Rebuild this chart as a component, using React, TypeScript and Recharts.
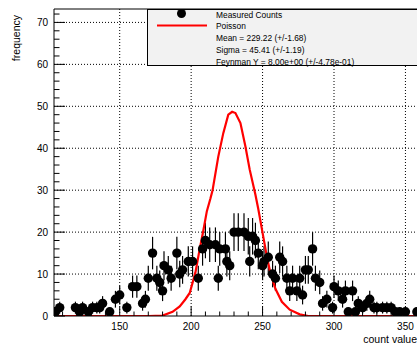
import React from 'react';
import { ComposedChart, Scatter, Line, XAxis, YAxis, ErrorBar, ReferenceLine } from 'recharts';

const countX = [105, 108, 119, 122, 124, 128, 131, 134, 136, 138, 143, 147, 150, 155, 159, 162, 166, 168, 170, 173, 176, 178, 180, 181, 184, 186, 190, 192, 194, 198, 201, 205, 208, 210, 213, 217, 219, 220, 224, 225, 227, 230, 233, 237, 240, 241, 243, 245, 247, 250, 251, 254, 257, 259, 262, 264, 267, 269, 271, 274, 276, 278, 280, 282, 285, 287, 290, 292, 295, 299, 300, 303, 306, 308, 310, 313, 315, 317, 320, 323, 325, 328, 330, 334, 337, 340, 343, 346, 350, 358];
const countY = [1, 2, 2, 1, 2, 1, 2, 2, 2, 3, 1, 4, 5, 2, 7, 7, 3, 4, 9, 15, 9, 8, 6, 12, 11, 9, 15, 10, 11, 13, 13, 9, 16, 18, 17, 17, 9, 16, 16, 13, 12, 20, 20, 20, 19, 13, 19, 18, 15, 12, 13, 14, 10, 9, 14, 13, 9, 6, 9, 6, 9, 5, 11, 11, 16, 9, 8, 3, 4, 2, 7, 6, 4, 6, 1, 6, 1, 3, 2, 3, 4, 2, 2, 2, 2, 2, 1, 1, 1, 1];

const poissonX = [104, 170, 180, 187, 192, 196, 199, 203, 206, 208.6, 211, 213.5, 215, 219, 222.5, 226, 228.7, 231, 234.5, 238, 241, 245, 247, 250.7, 253, 255.4, 259, 263.5, 269, 276, 282, 370];
const poissonY = [0, 0, 0.1, 1, 2.3, 4, 5.5, 10.4, 16, 20.5, 25, 28, 30, 38, 43.6, 48, 48.7, 48.4, 46, 40.4, 34.9, 28.9, 25.5, 18.5, 14.2, 10.4, 6.5, 3.4, 1.5, 0.4, 0, 0];

const xMajor = [150, 200, 250, 300, 350];
const xTicks = [110, 120, 130, 140, 150, 160, 170, 180, 190, 200, 210, 220, 230, 240, 250, 260, 270, 280, 290, 300, 310, 320, 330, 340, 350, 360, 370];
const yMajor = [0, 10, 20, 30, 40, 50, 60, 70];
const yTicks = [0, 2, 4, 6, 8, 10, 12, 14, 16, 18, 20, 22, 24, 26, 28, 30, 32, 34, 36, 38, 40, 42, 44, 46, 48, 50, 52, 54, 56, 58, 60, 62, 64, 66, 68, 70, 72];

const legendLabels = ['Measured Counts', 'Poisson', 'Mean = 229.22 (+/-1.68)', 'Sigma = 45.41 (+/-1.19)', 'Feynman Y = 8.00e+00 (+/-4.78e-01)'];

const X_MIN = 104;
const X_MAX = 370;
const Y_MAX = 73.2;

const FONT = '"Liberation Sans", Arial, Helvetica, sans-serif';

const measured = countX.map((x, i) => ({ x, y: countY[i], err: Math.sqrt(countY[i]) }));
const poisson = poissonX.map((x, i) => ({ x, y: poissonY[i] }));

const XTick = (props: any) => {
  const { x, y, payload } = props;
  const v = payload.value;
  const major = xMajor.includes(v);
  return (
    <g>
      <line x1={x} x2={x} y1={y} y2={y - (major ? 9.5 : 4.5)} stroke="#000" strokeWidth={1} />
      {major && (
        <text x={x} y={y + 14} textAnchor="middle" fontSize={10} fill="#000" fontFamily={FONT}>
          {v}
        </text>
      )}
    </g>
  );
};

const YTick = (props: any) => {
  const { x, y, payload } = props;
  const v = payload.value;
  const major = yMajor.includes(v);
  return (
    <g>
      <line x1={x} x2={x + (major ? 11 : 5.5)} y1={y} y2={y} stroke="#000" strokeWidth={1} />
      {major && (
        <text x={x - 6} y={y + 3.5} textAnchor="end" fontSize={10} fill="#000" fontFamily={FONT}>
          {v}
        </text>
      )}
    </g>
  );
};

const Dot = (p: any) => <circle cx={p.cx} cy={p.cy} r={4.7} fill="#000" />;

export default function App() {
  return (
    <div style={{ position: 'fixed', left: 0, top: 0, width: 417, height: 344, overflow: 'hidden', background: '#fff' }}>
      <ComposedChart width={440} height={344} margin={{ top: 9, right: 6, bottom: 0, left: 0 }}>
        <XAxis
          dataKey="x"
          type="number"
          domain={[X_MIN, X_MAX]}
          allowDataOverflow
          ticks={xTicks}
          interval={0}
          tick={<XTick />}
          tickSize={0}
          tickMargin={0}
          tickLine={false}
          height={28}
          axisLine={{ stroke: '#000' }}
        />
        <YAxis
          dataKey="y"
          type="number"
          domain={[0, Y_MAX]}
          allowDataOverflow
          ticks={yTicks}
          interval={0}
          tick={<YTick />}
          tickSize={0}
          tickMargin={0}
          tickLine={false}
          width={54}
          axisLine={{ stroke: '#000' }}
        />
        {xMajor.map((v) => (
          <ReferenceLine key={'gx' + v} x={v} stroke="#000" strokeDasharray="1 2" strokeWidth={1} />
        ))}
        {yMajor.filter((v) => v > 0).map((v) => (
          <ReferenceLine key={'gy' + v} y={v} stroke="#000" strokeDasharray="1 2" strokeWidth={1} />
        ))}
        <ReferenceLine y={Y_MAX} stroke="#000" strokeWidth={1} />
        <Scatter data={measured} dataKey="y" shape={<Dot />} isAnimationActive={false}>
          <ErrorBar dataKey="err" direction="y" width={0} stroke="#000" strokeWidth={1.2} />
        </Scatter>
        <Line data={poisson} dataKey="y" type="linear" dot={false} activeDot={false} stroke="#ff0000" strokeWidth={2.2} isAnimationActive={false} />
      </ComposedChart>
      <svg width={417} height={344} style={{ position: 'absolute', left: 0, top: 0, pointerEvents: 'none' }}>
        <text x={20} y={15} transform="rotate(-90 20 15)" textAnchor="end" fontSize={10.5} fill="#000" fontFamily={FONT}>
          frequency
        </text>
        <text x={417} y={343} textAnchor="end" fontSize={10.5} fill="#000" fontFamily={FONT}>
          count value
        </text>
        <rect x={147.5} y={9.5} width={290} height={56} fill="#f2f2f2" stroke="#000" strokeWidth={1} />
        <circle cx={181.5} cy={13.5} r={4.5} fill="#000" />
        <line x1={157} x2={207} y1={25.5} y2={25.5} stroke="#ff0000" strokeWidth={2} />
        {legendLabels.map((t, i) => (
          <text key={t} x={216} y={17.7 + i * 11.75} fontSize={8.4} fill="#000" fontFamily={FONT}>
            {t}
          </text>
        ))}
      </svg>
    </div>
  );
}
